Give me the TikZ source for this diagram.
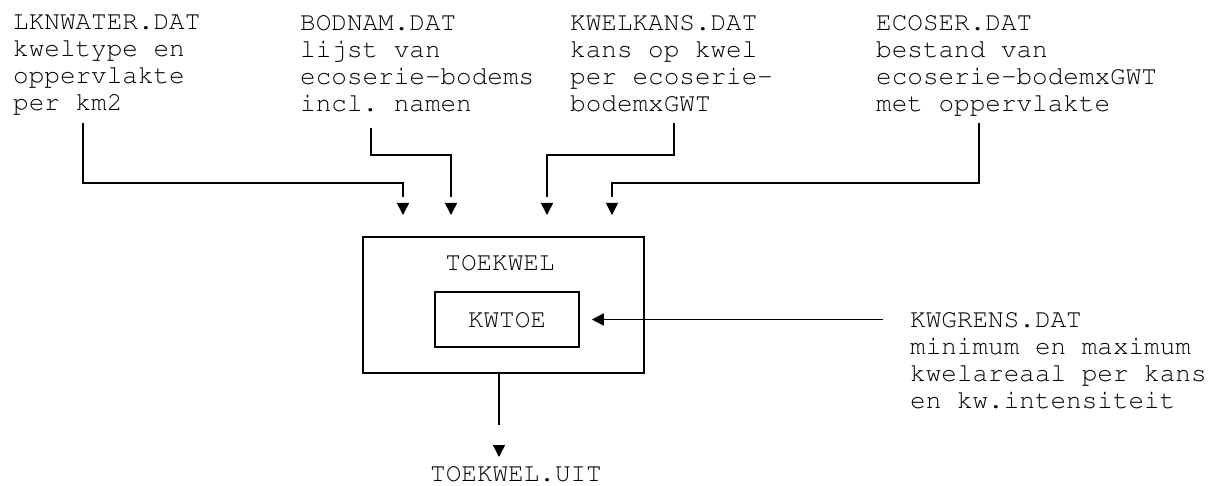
\documentclass[tikz,border=0pt]{standalone}
\usepackage[T1]{fontenc}
\usepackage{courier}
\usetikzlibrary{arrows.meta}
\frenchspacing
\begin{document}
\begin{tikzpicture}[x=1pt,y=-1pt,
  txt/.style={font=\fontfamily{pcr}\fontsize{26}{27}\selectfont},
  lbl/.style={txt, anchor=north west, inner sep=0pt, align=left},
  ctr/.style={txt, inner sep=0pt},
  box/.style={draw, line width=1.6pt, inner sep=0pt},
  conn/.style={line width=1.6pt},
  tip/.style={conn, -{Triangle[length=12pt,width=12pt]}}]
\useasboundingbox (0,0) rectangle (1219,486);
% input files
\node[lbl] (lkn) at (13,14.7) {LKNWATER.DAT\\kweltype en\\oppervlakte\\per km2};
\node[lbl] (bod) at (300,14.7) {BODNAM.DAT\\lijst van\\ecoserie-bodems\\incl. namen};
\node[lbl] (kwk) at (570,14.7) {KWELKANS.DAT\\kans op kwel\\per ecoserie-\\bodemxGWT};
\node[lbl] (eco) at (876,14.7) {ECOSER.DAT\\bestand van\\ecoserie-bodemxGWT\\met oppervlakte};
\node[lbl] (kwg) at (910,311.7) {KWGRENS.DAT\\minimum en maximum\\kwelareaal per kans\\en kw.intensiteit};
% program boxes
\node[box, minimum width=281pt, minimum height=136pt] (toe) at (503.5,305) {};
\node[ctr] (toelbl) at (500,263) {TOEKWEL};
\node[box, txt, minimum width=144pt, minimum height=55pt] (kwtoe) at (507,319.5) {KWTOE};
\node[ctr] (uit) at (516,474) {TOEKWEL.UIT};
% connector points
\coordinate (s1) at (83,123);  \coordinate (b1) at (83,183);  \coordinate (t1) at (403,215);
\coordinate (s2) at (371,128); \coordinate (b2) at (371,155); \coordinate (t2) at (451,215);
\coordinate (s3) at (674,123); \coordinate (b3) at (674,155); \coordinate (t3) at (547,215);
\coordinate (s4) at (979,123); \coordinate (b4) at (979,183); \coordinate (t4) at (612,215);
\coordinate (kwgin) at (883,319.5);
\coordinate (uitin) at (499,457);
% connectors (line stops short of its detached arrowhead)
\draw[conn, shorten >=18pt] (s1) -- (b1) -| (t1);
\draw[conn, shorten >=18pt] (s2) -- (b2) -| (t2);
\draw[conn, shorten >=18pt] (s3) -- (b3) -| (t3);
\draw[conn, shorten >=18pt] (s4) -- (b4) -| (t4);
\draw[conn, shorten >=32pt] (toe.south -| uitin) -- (uitin);
\foreach \t in {t1,t2,t3,t4,uitin}
  \draw[tip] ([yshift=1pt]\t) -- (\t);
\draw[tip, shorten >=12pt] (kwgin) -- (kwtoe.east);
\end{tikzpicture}
\end{document}
